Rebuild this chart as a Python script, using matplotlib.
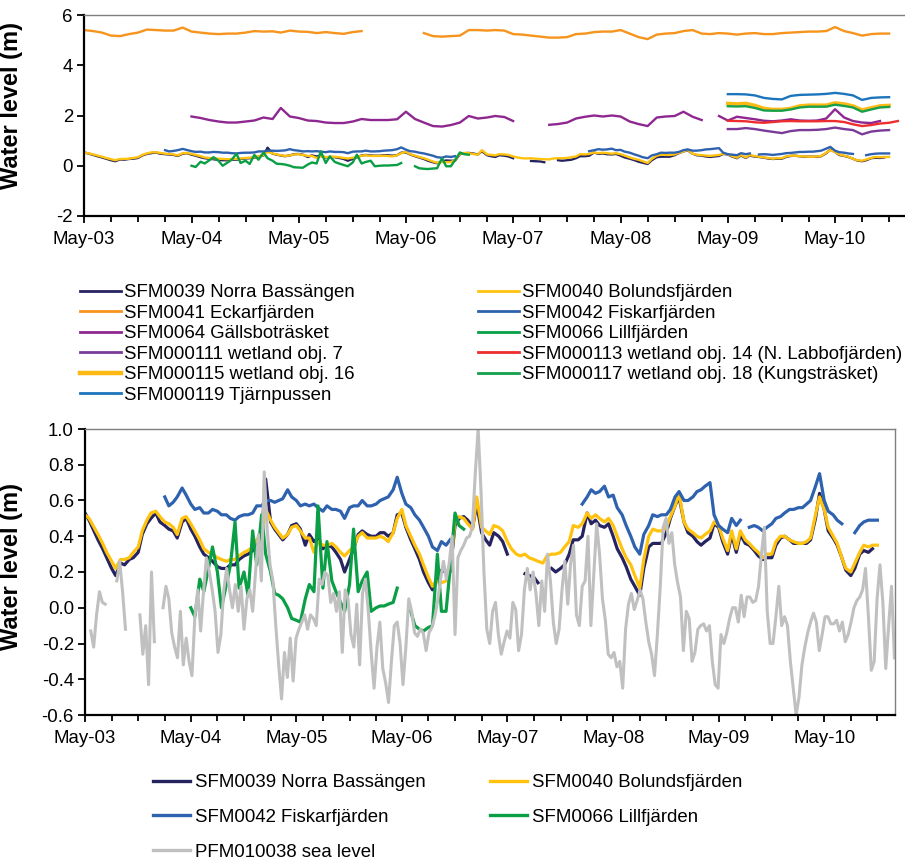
import numpy as np
import pandas as pd
import matplotlib
matplotlib.use('Agg')
import matplotlib.pyplot as plt
import matplotlib.dates as mdates
from matplotlib.ticker import FormatStrFormatter

nan = np.nan

# ---- Lake levels, readings on the 1st and 15th of each month (m) ----
# SFM0039 Norra Bassängen, from 2003-05-01
norra_bassangen = [
    0.53, 0.49, 0.43, 0.38, 0.33, 0.28, 0.22, 0.18, 0.25, 0.24, 0.27, 0.28, 0.31, 0.41, 0.47, 0.50, 0.53, 0.48, 0.46, 0.44, 0.43, 0.39, 0.48, 0.50,
    0.44, 0.40, 0.34, 0.30, 0.28, 0.26, 0.23, 0.22, 0.22, 0.24, 0.24, 0.27, 0.29, 0.30, 0.32, 0.37, 0.41, 0.72, 0.48, 0.44, 0.41, 0.38, 0.41, 0.46,
    0.47, 0.44, 0.35, 0.41, 0.37, 0.39, 0.33, 0.35, 0.34, 0.31, 0.27, 0.20, 0.27, 0.33, 0.41, 0.43, 0.41, 0.40, 0.40, 0.42, 0.42, 0.40, 0.42, 0.52,
    0.53, 0.45, 0.38, 0.33, 0.27, 0.20, 0.14, 0.10, 0.17, 0.21, 0.20, 0.20, 0.46, 0.50, 0.51, 0.49, 0.45, 0.58, 0.42, 0.38, 0.35, 0.42, 0.40, 0.37,
    0.30, nan, nan, nan, 0.19, 0.18, 0.17, 0.14, nan, nan, 0.22, 0.20, 0.22, 0.24, 0.30, 0.38, 0.38, 0.40, 0.53, 0.47, 0.49, 0.46, 0.45, 0.47,
    0.40, 0.33, 0.28, 0.23, 0.16, 0.12, 0.07, 0.22, 0.34, 0.36, 0.36, 0.36, 0.42, 0.50, 0.57, 0.62, 0.48, 0.42, 0.40, 0.37, 0.35, 0.37, 0.39, 0.47,
    0.45, 0.37, 0.30, 0.41, 0.31, 0.41, 0.36, 0.35, 0.32, 0.29, 0.27, 0.28, 0.28, 0.35, 0.39, 0.40, 0.38, 0.36, 0.36, 0.36, 0.36, 0.38, 0.50, 0.64,
    0.55, 0.43, 0.39, 0.35, 0.28, 0.21, 0.18, 0.22, 0.30, 0.32, 0.31, 0.33,
]
# SFM0040 Bolundsfjärden, from 2003-05-01
bolundsfjarden = [
    0.52, 0.50, 0.45, 0.41, 0.36, 0.31, 0.26, 0.22, 0.27, 0.27, 0.28, 0.31, 0.34, 0.43, 0.49, 0.53, 0.54, 0.51, 0.48, 0.47, 0.45, 0.41, 0.50, 0.51,
    0.47, 0.43, 0.38, 0.33, 0.31, 0.30, 0.28, 0.27, 0.26, 0.27, 0.27, 0.29, 0.31, 0.32, 0.34, 0.38, 0.42, 0.55, 0.49, 0.45, 0.42, 0.39, 0.41, 0.45,
    0.46, 0.43, 0.39, 0.39, 0.31, 0.37, 0.35, 0.35, 0.36, 0.34, 0.31, 0.29, 0.32, 0.34, 0.40, 0.42, 0.39, 0.39, 0.39, 0.40, 0.39, 0.37, 0.42, 0.50,
    0.55, 0.46, 0.40, 0.35, 0.30, 0.24, 0.17, 0.12, 0.15, 0.14, 0.15, 0.22, 0.48, 0.51, 0.50, 0.47, 0.44, 0.62, 0.45, 0.43, 0.41, 0.46, 0.45, 0.43,
    0.37, 0.33, 0.30, 0.29, 0.30, 0.28, 0.27, 0.26, 0.25, 0.29, 0.30, 0.30, 0.31, 0.34, 0.37, 0.46, 0.45, 0.47, 0.53, 0.50, 0.52, 0.50, 0.48, 0.50,
    0.46, 0.40, 0.33, 0.28, 0.24, 0.18, 0.11, 0.27, 0.40, 0.44, 0.43, 0.43, 0.45, 0.51, 0.57, 0.64, 0.48, 0.44, 0.42, 0.40, 0.39, 0.41, 0.43, 0.48,
    0.46, 0.39, 0.32, 0.43, 0.33, 0.43, 0.38, 0.36, 0.33, 0.31, 0.28, 0.30, 0.30, 0.37, 0.40, 0.40, 0.38, 0.37, 0.36, 0.36, 0.37, 0.39, 0.52, 0.62,
    0.55, 0.45, 0.40, 0.36, 0.28, 0.22, 0.20, 0.25, 0.31, 0.35, 0.34, 0.35, 0.35,
]
# SFM0042 Fiskarfjärden, from 2004-02-01
fiskarfjarden = [
    0.62, 0.57, 0.59, 0.62, 0.67, 0.63,
    0.58, 0.55, 0.56, 0.53, 0.53, 0.55, 0.54, 0.52, 0.52, 0.50, 0.49, 0.51, 0.52, 0.52, 0.53, 0.57, 0.57, 0.60, 0.60, 0.59, 0.60, 0.61, 0.66, 0.62,
    0.60, 0.57, 0.58, 0.57, 0.58, 0.56, 0.54, 0.57, 0.55, 0.55, 0.54, 0.50, 0.56, 0.57, 0.57, 0.60, 0.57, 0.57, 0.58, 0.60, 0.61, 0.62, 0.66, 0.73,
    0.64, 0.58, 0.56, 0.52, 0.49, 0.45, 0.40, 0.34, 0.32, 0.37, 0.35, 0.38, nan, nan, nan, nan, nan, nan, nan, nan, nan, nan, nan, nan,
    nan, nan, nan, nan, nan, nan, nan, nan, nan, nan, nan, nan, nan, nan, nan, nan, nan, 0.58, 0.62, 0.66, 0.64, 0.65, 0.68, 0.62,
    0.63, 0.56, 0.52, 0.46, 0.40, 0.34, 0.30, 0.41, 0.46, 0.52, 0.51, 0.52, 0.52, 0.55, 0.62, 0.65, 0.60, 0.60, 0.62, 0.65, 0.66, 0.68, 0.70, 0.52,
    0.46, 0.44, 0.42, 0.50, 0.46, 0.49, nan, 0.45, 0.46, 0.45, 0.43, 0.45, 0.47, 0.50, 0.51, 0.53, 0.55, 0.55, 0.56, 0.56, 0.58, 0.60, 0.68, 0.75,
    0.60, 0.54, 0.52, 0.49, 0.47, nan, nan, 0.42, 0.46, 0.48, 0.49, 0.49, 0.49,
]
# SFM0066 Lillfjärden, from 2004-05-01
lillfjarden = [
    0.00, -0.05, 0.16, 0.09, 0.22, 0.34, 0.20, 0.00, 0.13, 0.24, 0.48, 0.11, 0.20, 0.07, 0.43, 0.24, 0.52, 0.30, 0.20, 0.08, 0.07, 0.05, 0.00, -0.06,
    -0.07, -0.08, 0.05, 0.13, 0.09, 0.57, 0.11, 0.37, 0.15, 0.09, 0.03, -0.02, 0.13, 0.44, 0.09, 0.15, 0.20, -0.02, 0.00, 0.01, 0.01, 0.02, 0.03, 0.11,
    nan, nan, -0.02, -0.10, -0.12, -0.13, -0.11, -0.10, 0.30, -0.02, -0.02, 0.22, 0.53, 0.46, 0.44,
]

# PFM010038 sea level, one reading every 10 days from 2003-05-01 (m)
sea_level = [
    nan, nan, -0.13, -0.22, -0.04, 0.09, 0.03, 0.02, nan, nan,
    nan, 0.15, 0.26, 0.09, -0.12, nan, nan, nan, nan, -0.04,
    -0.26, -0.10, -0.43, 0.20, -0.19, nan, nan, 0.00, 0.12, 0.05,
    -0.14, -0.22, -0.28, -0.02, -0.32, -0.17, -0.30, -0.38, -0.05, 0.10,
    -0.13, 0.09, 0.28, 0.20, 0.10, -0.02, -0.25, -0.15, 0.10, 0.22,
    0.10, 0.00, 0.13, -0.02, 0.12, -0.12, 0.05, 0.10, -0.02, 0.20,
    0.41, 0.15, 0.76, 0.44, 0.24, 0.15, -0.10, -0.32, -0.51, -0.25,
    -0.39, -0.17, -0.41, -0.17, -0.12, -0.08, -0.04, -0.12, -0.04, -0.06,
    -0.10, 0.16, 0.13, 0.20, 0.18, 0.03, 0.08, -0.02, 0.09, -0.25,
    0.10, 0.05, -0.15, -0.22, 0.02, -0.32, 0.08, 0.16, -0.02, -0.25,
    -0.45, -0.22, -0.08, -0.34, -0.42, -0.53, -0.30, -0.10, -0.08, -0.20,
    -0.43, -0.22, 0.05, -0.02, -0.14, -0.16, -0.12, -0.14, -0.24, -0.14,
    -0.11, -0.05, 0.04, 0.16, 0.26, 0.16, 0.25, 0.40, -0.15, 0.28,
    0.32, 0.35, 0.39, 0.40, 0.45, 0.75, 1.00, 0.65, 0.20, -0.12,
    -0.20, -0.02, 0.03, -0.15, -0.26, -0.19, -0.13, -0.17, 0.03, -0.01,
    -0.24, -0.15, 0.10, 0.22, 0.10, 0.20, 0.08, -0.10, 0.15, -0.02,
    0.30, 0.15, -0.08, -0.20, -0.12, 0.10, 0.26, 0.02, 0.25, 0.35,
    -0.04, -0.10, 0.12, 0.15, 0.40, -0.10, 0.18, 0.47, 0.30, 0.05,
    -0.07, -0.26, -0.28, -0.25, -0.33, -0.30, -0.45, -0.12, 0.02, 0.08,
    -0.01, 0.04, 0.10, 0.05, -0.08, -0.19, -0.26, -0.38, -0.15, 0.12,
    0.45, 0.50, 0.36, 0.42, 0.24, 0.14, 0.06, -0.24, -0.02, -0.06,
    -0.30, -0.25, -0.12, -0.10, -0.09, -0.13, -0.10, -0.30, -0.43, -0.45,
    -0.15, -0.20, -0.14, -0.06, 0.00, 0.00, -0.08, 0.07, -0.05, 0.06,
    0.06, 0.03, 0.04, 0.12, 0.30, 0.45, -0.02, -0.20, -0.20, -0.05,
    0.12, -0.10, -0.05, -0.10, -0.30, -0.45, -0.60, -0.50, -0.32, -0.22,
    -0.14, -0.08, -0.03, -0.08, -0.24, -0.15, -0.05, -0.05, -0.09, -0.09,
    -0.07, -0.13, -0.08, -0.19, -0.15, -0.08, 0.00, 0.04, 0.06, 0.10,
    0.22, -0.05, -0.35, -0.30, 0.05, 0.24, 0.03, -0.34, -0.10, 0.12, -0.28,
]

# ---- Monthly readings for the stations only in the overview (m) ----
# SFM0041 Eckarfjärden, from 2003-05-01
eckarfjarden = [
    5.40, 5.36, 5.30, 5.18, 5.16, 5.24, 5.30, 5.42, 5.40, 5.38, 5.38, 5.50,
    5.34, 5.30, 5.26, 5.24, 5.26, 5.26, 5.30, 5.36, 5.34, 5.35, 5.30, 5.38,
    5.34, 5.33, 5.28, 5.32, 5.28, 5.25, 5.32, 5.36, nan, nan, nan, nan,
    nan, nan, 5.28, 5.16, 5.14, 5.16, 5.18, 5.40, 5.40, 5.38, 5.40, 5.38,
    5.24, 5.22, 5.18, 5.14, 5.10, 5.10, 5.12, 5.24, 5.26, 5.32, 5.34, 5.34,
    5.40, 5.26, 5.12, 5.04, 5.22, 5.26, 5.28, 5.36, 5.40, 5.26, 5.24, 5.28,
    5.26, 5.22, 5.26, 5.28, 5.24, 5.24, 5.28, 5.30, 5.32, 5.34, 5.34, 5.36,
    5.52, 5.36, 5.28, 5.18, 5.24, 5.26, 5.26,
]
# SFM0064 Gällsboträsket, from 2004-05-01
gallsbotrasket = [
    1.96, 1.90, 1.82, 1.76, 1.72, 1.72, 1.76, 1.80, 1.92, 1.86, 2.30, 1.96,
    1.90, 1.80, 1.78, 1.72, 1.70, 1.70, 1.76, 1.86, 1.82, 1.82, 1.82, 1.85,
    2.15, 1.86, 1.72, 1.58, 1.56, 1.62, 1.72, 1.98, 1.88, 1.92, 1.98, 1.94,
    1.78, nan, nan, nan, 1.63, 1.66, 1.72, 1.88, 1.95, 2.00, 1.96, 2.00,
    1.96, 1.76, 1.66, 1.58, 1.92, 1.96, 1.98, 2.15, 1.95, 1.82, nan, 1.98,
    1.80, 1.95, 1.90, 1.85, 1.79, 1.77, 1.80, 1.85, 1.80, 1.79, 1.80, 1.88,
    2.25, 1.92, 1.78, 1.72, 1.70, 1.78,
]
# Wetland stations, from 2009-05-01
wetland_07 = [1.46, 1.46, 1.50, 1.46, 1.40, 1.35, 1.30, 1.38, 1.42, 1.42, 1.43, 1.46, 1.52, 1.46, 1.42, 1.25, 1.36, 1.40, 1.42]
wetland_14 = [1.79, 1.78, 1.77, 1.73, 1.71, 1.74, 1.77, 1.78, 1.77, 1.77, 1.77, 1.78, 1.78, 1.74, 1.65, 1.58, 1.62, 1.68, 1.71, 1.78]
wetland_16 = [2.48, 2.46, 2.48, 2.40, 2.28, 2.24, 2.24, 2.28, 2.38, 2.41, 2.41, 2.41, 2.50, 2.46, 2.38, 2.22, 2.30, 2.38, 2.40]
wetland_18 = [2.37, 2.36, 2.37, 2.30, 2.20, 2.19, 2.19, 2.24, 2.32, 2.35, 2.35, 2.35, 2.43, 2.38, 2.32, 2.15, 2.24, 2.32, 2.34]
tjarnpussen = [2.85, 2.85, 2.84, 2.80, 2.70, 2.66, 2.64, 2.78, 2.82, 2.83, 2.84, 2.86, 2.90, 2.86, 2.80, 2.62, 2.70, 2.72, 2.73]


def regular(start, values, freq):
    return pd.Series(values, index=pd.date_range(start, periods=len(values), freq=freq))


s0039 = regular('2003-05-01', norra_bassangen, 'SMS')
s0040 = regular('2003-05-01', bolundsfjarden, 'SMS')
s0042 = regular('2004-02-01', fiskarfjarden, 'SMS')
s0066 = regular('2004-05-01', lillfjarden, 'SMS')
s_sea = regular('2003-05-01', sea_level, '10D')
s0041 = regular('2003-05-01', eckarfjarden, 'MS')
s0064 = regular('2004-05-01', gallsbotrasket, 'MS')
s111 = regular('2009-05-01', wetland_07, 'MS')
s113 = regular('2009-05-01', wetland_14, 'MS')
s115 = regular('2009-05-01', wetland_16, 'MS')
s117 = regular('2009-05-01', wetland_18, 'MS')
s119 = regular('2009-05-01', tjarnpussen, 'MS')

c0039 = '#262460'
c0040 = '#FFC20E'
c0041 = '#F7941D'
c0042 = '#2E62AE'
c0064 = '#8E278F'
c0066 = '#0A9E45'
c111 = '#7A3A98'
c113 = '#EE2E2E'
c115 = '#FDB913'
c117 = '#16A04A'
c119 = '#1C75BC'
c_sea = '#C0C0C0'

plt.rcParams['font.family'] = ['Liberation Sans', 'DejaVu Sans']
plt.rcParams['axes.unicode_minus'] = False

W, H = 905, 859
fig = plt.figure(figsize=(W / 100, H / 100), dpi=100)
ax1 = fig.add_axes([84 / W, 1 - 216 / H, 823 / W, 201 / H])
ax2 = fig.add_axes([85 / W, 1 - 715 / H, 810 / W, 286 / H])


def style_axis(ax):
    ax.set_facecolor('white')
    for side in ['left', 'bottom']:
        ax.spines[side].set_linewidth(1.6)
        ax.spines[side].set_color('black')
    for side in ['top', 'right']:
        ax.spines[side].set_linewidth(1.0)
        ax.spines[side].set_color('#7f7f7f')
    ax.set_xlim(pd.Timestamp('2003-05-01'), pd.Timestamp('2011-01-01'))
    ax.xaxis.set_major_locator(mdates.MonthLocator(bymonth=5))
    ax.xaxis.set_minor_locator(mdates.MonthLocator(bymonth=[2, 5, 8, 11]))
    ax.xaxis.set_major_formatter(mdates.DateFormatter('%b-%y'))
    ax.tick_params(axis='x', which='major', direction='out', length=5, width=1.3, pad=6, labelsize=13.4)
    ax.tick_params(axis='x', which='minor', direction='out', length=4, width=1.3)
    ax.tick_params(axis='y', direction='out', length=5, width=1.3, pad=3, labelsize=13.4)


# ---- Overview of all stations ----
lw1 = 1.7
ax1.plot(s0039.index, s0039.values, color=c0039, lw=lw1)
ax1.plot(s0040.index, s0040.values, color=c0040, lw=lw1)
ax1.plot(s0041.index, s0041.values, color=c0041, lw=lw1)
ax1.plot(s0042.index, s0042.values, color=c0042, lw=lw1)
ax1.plot(s0064.index, s0064.values, color=c0064, lw=lw1)
ax1.plot(s0066.index, s0066.values, color=c0066, lw=lw1)
ax1.plot(s111.index, s111.values, color=c111, lw=lw1)
ax1.plot(s113.index, s113.values, color=c113, lw=lw1)
ax1.plot(s115.index, s115.values, color=c115, lw=2.6)
ax1.plot(s117.index, s117.values, color=c117, lw=lw1)
ax1.plot(s119.index, s119.values, color=c119, lw=lw1)
style_axis(ax1)
ax1.spines['right'].set_visible(False)
ax1.set_ylim(-2, 6)
ax1.set_yticks([-2, 0, 2, 4, 6])
ax1.set_ylabel('Water level (m)', fontsize=17, fontweight='bold')
ax1.yaxis.set_label_coords(-0.074, 0.55)

# ---- Lakes near sea level, with the sea level record ----
lw2 = 2.3
ax2.plot(s0039.index, s0039.values, color=c0039, lw=lw2)
ax2.plot(s0040.index, s0040.values, color=c0040, lw=lw2)
ax2.plot(s0042.index, s0042.values, color=c0042, lw=lw2)
ax2.plot(s0066.index, s0066.values, color=c0066, lw=lw2)
ax2.plot(s_sea.index, s_sea.values, color=c_sea, lw=2.2)
style_axis(ax2)
ax2.set_ylim(-0.6, 1.0)
ax2.set_yticks(np.arange(-0.6, 1.01, 0.2))
ax2.yaxis.set_major_formatter(FormatStrFormatter('%.1f'))
ax2.set_ylabel('Water level (m)', fontsize=17, fontweight='bold')
ax2.yaxis.set_label_coords(-0.0765, 0.52)


# ---- Legends ----
def legend_column(entries, x_px, y_px, spacing, hlen, pad):
    handles = [plt.Line2D([], [], color=c, lw=lw) for _, c, lw in entries]
    labels = [t for t, _, _ in entries]
    fig.legend(handles, labels, loc='upper left', bbox_to_anchor=(x_px / W, 1 - y_px / H),
               frameon=False, fontsize=13.4, handlelength=hlen, handletextpad=pad,
               borderpad=0, borderaxespad=0, labelspacing=spacing)


legend_column([
    ('SFM0039 Norra Bassängen', c0039, 2.0),
    ('SFM0041 Eckarfjärden', c0041, 2.0),
    ('SFM0064 Gällsboträsket', c0064, 2.0),
    ('SFM000111 wetland obj. 7', c111, 2.0),
    ('SFM000115 wetland obj. 16', c115, 3.2),
    ('SFM000119 Tjärnpussen', c119, 2.0),
], 80, 284, 0.19, 2.2, 0.15)
legend_column([
    ('SFM0040 Bolundsfjärden', c0040, 2.0),
    ('SFM0042 Fiskarfjärden', c0042, 2.0),
    ('SFM0066 Lillfjärden', c0066, 2.0),
    ('SFM000113 wetland obj. 14 (N. Labbofjärden)', c113, 2.0),
    ('SFM000117 wetland obj. 18 (Kungsträsket)', c117, 2.0),
], 478, 284, 0.19, 2.2, 0.15)
legend_column([
    ('SFM0039 Norra Bassängen', c0039, 2.4),
    ('SFM0042 Fiskarfjärden', c0042, 2.4),
    ('PFM010038 sea level', c_sea, 2.4),
], 153, 774, 0.96, 2.0, 0.25)
legend_column([
    ('SFM0040 Bolundsfjärden', c0040, 2.4),
    ('SFM0066 Lillfjärden', c0066, 2.4),
], 490, 774, 0.96, 2.0, 0.25)

fig.savefig('out.png', dpi=100, facecolor='white')
